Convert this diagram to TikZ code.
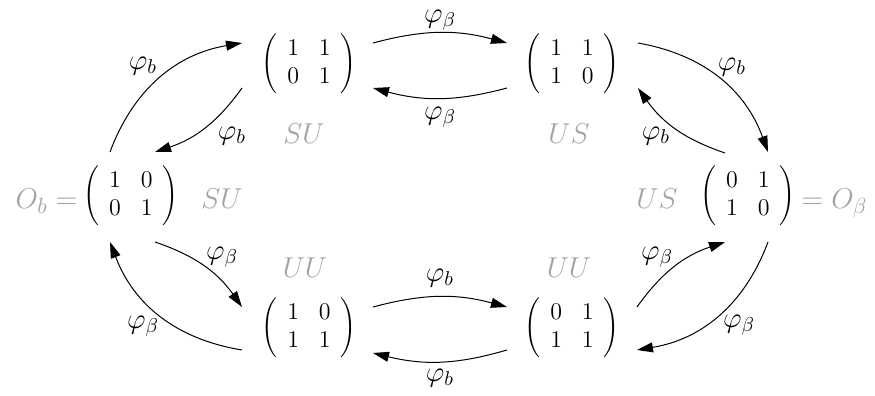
\documentclass[tikz,border=0pt]{standalone}
\usetikzlibrary{arrows.meta}
\definecolor{lg}{gray}{0.64}
\begin{document}
\begin{tikzpicture}[x=0.5pt,y=-0.5pt,
  mat/.style={font=\large, inner sep=0pt},
  glab/.style={font=\fontsize{13.5}{16}\selectfont, text=lg, inner sep=0pt},
  gbig/.style={font=\fontsize{15.5}{18}\selectfont, text=lg, inner sep=0pt},
  lab/.style={font=\fontsize{14}{17}\selectfont, inner sep=0pt},
  arr/.style={line width=0.5pt, -{Triangle[length=8pt,width=5pt]}}]
\useasboundingbox (0,0) rectangle (875,396);
% matrices
\node[mat] (ob) at (131,196) {$\left(\begin{array}{cc}1&0\\0&1\end{array}\right)$};
\node[mat] (tl) at (309,64) {$\left(\begin{array}{cc}1&1\\0&1\end{array}\right)$};
\node[mat] (tr) at (572,64) {$\left(\begin{array}{cc}1&1\\1&0\end{array}\right)$};
\node[mat] (bl) at (309,328) {$\left(\begin{array}{cc}1&0\\1&1\end{array}\right)$};
\node[mat] (br) at (572,328) {$\left(\begin{array}{cc}0&1\\1&1\end{array}\right)$};
\node[mat] (or) at (748,196) {$\left(\begin{array}{cc}0&1\\1&0\end{array}\right)$};
% gray labels
\node[gbig, anchor=base east] (obname) at (78,208) {$O_b=$};
\node[gbig, anchor=base west] (orname) at (801,208) {$=O_\beta$};
\node[glab, anchor=base] (su1) at (222,208) {$SU$};
\node[glab, anchor=base] (us1) at (657,208) {$US$};
\node[glab, anchor=base] (su2) at (304,143) {$SU$};
\node[glab, anchor=base] (us2) at (569,143) {$US$};
\node[glab, anchor=base] (uu1) at (305,277) {$UU$};
\node[glab, anchor=base] (uu2) at (569,277) {$UU$};
% top pair
\draw[arr] ([shift={(64,-21)}]tl.center) to[bend left=15] ([shift={(-65,-21)}]tr.center) node[lab] at (440,20) {$\varphi_\beta$};
\draw[arr] ([shift={(-65,24)}]tr.center) to[bend left=15] ([shift={(64,24)}]tl.center) node[lab] at (440,117) {$\varphi_\beta$};
% bottom pair
\draw[arr] ([shift={(64,-21)}]bl.center) to[bend left=15] ([shift={(-65,-21)}]br.center) node[lab] at (440,278) {$\varphi_b$};
\draw[arr] ([shift={(-65,22)}]br.center) to[bend left=15] ([shift={(64,25)}]bl.center) node[lab] at (440,378) {$\varphi_b$};
% left side
\draw[arr] ([shift={(-21,-44)}]ob.center) to[bend left=30] ([shift={(-67,-21)}]tl.center) node[lab] at (143,66) {$\varphi_b$};
\draw[arr] ([shift={(-67,24)}]tl.center) to[bend left=18] ([shift={(24,-44)}]ob.center) node[lab] at (232,136) {$\varphi_b$};
\draw[arr] ([shift={(24,46)}]ob.center) to[bend left=18] ([shift={(-67,-21)}]bl.center) node[lab] at (222,257) {$\varphi_\beta$};
\draw[arr] ([shift={(-67,22)}]bl.center) to[bend left=30] ([shift={(-21,46)}]ob.center) node[lab] at (143,326) {$\varphi_\beta$};
% right side
\draw[arr] ([shift={(66,-21)}]tr.center) to[bend left=30] ([shift={(20,-44)}]or.center) node[lab] at (732,67) {$\varphi_b$};
\draw[arr] ([shift={(-23,-43)}]or.center) to[bend left=18] ([shift={(66,24)}]tr.center) node[lab] at (656,136) {$\varphi_b$};
\draw[arr] ([shift={(65,-21)}]br.center) to[bend left=18] ([shift={(-23,46)}]or.center) node[lab] at (657,257) {$\varphi_\beta$};
\draw[arr] ([shift={(20,46)}]or.center) to[bend left=30] ([shift={(65,22)}]br.center) node[lab] at (739,325) {$\varphi_\beta$};
\end{tikzpicture}
\end{document}
